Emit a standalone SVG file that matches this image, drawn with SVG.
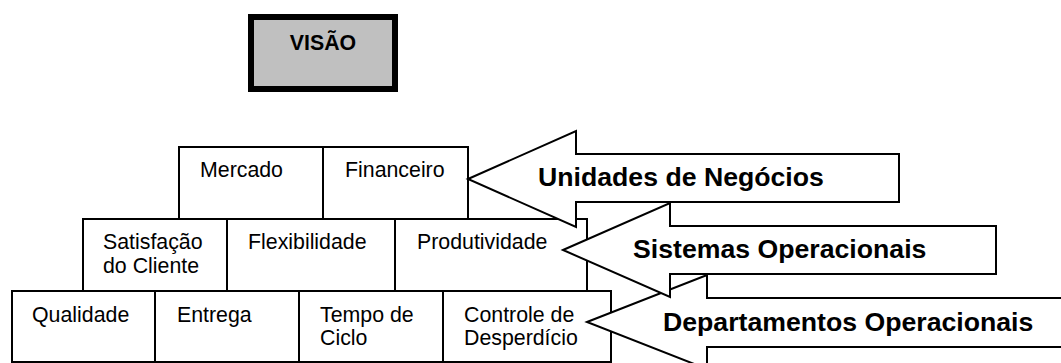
<svg xmlns="http://www.w3.org/2000/svg" width="1061" height="363" viewBox="0 0 1061 363">
  <style>
    .box { fill: #ffffff; stroke: #000000; stroke-width: 2; }
    .arrow { fill: #ffffff; stroke: #000000; stroke-width: 2; stroke-linejoin: miter; }
    .lbl { font-family: "Liberation Sans", Arial, sans-serif; font-size: 21.33px; fill: #000000; }
    .big { font-family: "Liberation Sans", Arial, sans-serif; font-size: 26.67px; font-weight: bold; fill: #000000; }
    .vis { font-family: "Liberation Sans", Arial, sans-serif; font-size: 21.33px; font-weight: bold; fill: #000000; }
  </style>
  <rect width="1061" height="363" fill="#ffffff"/>

  <g id="visao">
    <rect x="251" y="17" width="144" height="72" fill="#c0c0c0" stroke="#000000" stroke-width="6"/>
    <text class="vis" x="323" y="50" text-anchor="middle">VISÃO</text>
  </g>

  <g id="mercado">
    <rect class="box" x="179" y="147" width="144" height="72"/>
    <text class="lbl" x="200" y="177">Mercado</text>
  </g>
  <g id="financeiro">
    <rect class="box" x="323" y="147" width="145" height="72"/>
    <text class="lbl" x="345" y="177">Financeiro</text>
  </g>

  <g id="satisfacao">
    <rect class="box" x="83" y="219" width="144" height="72"/>
    <text class="lbl" x="103" y="249">Satisfação</text>
    <text class="lbl" x="103" y="273">do Cliente</text>
  </g>
  <g id="flexibilidade">
    <rect class="box" x="227" y="219" width="168" height="72"/>
    <text class="lbl" x="248" y="249">Flexibilidade</text>
  </g>
  <g id="produtividade">
    <rect class="box" x="395" y="219" width="192" height="72"/>
    <text class="lbl" x="417" y="249">Produtividade</text>
  </g>

  <g id="qualidade">
    <rect class="box" x="12" y="291" width="143" height="71"/>
    <text class="lbl" x="32" y="322">Qualidade</text>
  </g>
  <g id="entrega">
    <rect class="box" x="155" y="291" width="144" height="71"/>
    <text class="lbl" x="177" y="322">Entrega</text>
  </g>
  <g id="tempo-ciclo">
    <rect class="box" x="299" y="291" width="144" height="71"/>
    <text class="lbl" x="320" y="322">Tempo de</text>
    <text class="lbl" x="320" y="345">Ciclo</text>
  </g>
  <g id="controle-desperdicio">
    <rect class="box" x="443" y="291" width="168" height="71"/>
    <text class="lbl" x="464" y="322">Controle de</text>
    <text class="lbl" x="464" y="345">Desperdício</text>
  </g>

  <g id="departamentos-operacionais">
    <path class="arrow" d="M587,322 L707,275 L707,298 L1075,298 L1075,347 L707,347 L707,369 Z"/>
    <text class="big" x="663" y="331">Departamentos Operacionais</text>
  </g>
  <g id="sistemas-operacionais">
    <path class="arrow" d="M563,250 L670,203 L670,226 L996,226 L996,274 L670,274 L670,297 Z"/>
    <text class="big" x="633" y="258">Sistemas Operacionais</text>
  </g>
  <g id="unidades-negocios">
    <path class="arrow" d="M468,179 L576,131 L576,154 L899,154 L899,202 L576,202 L576,227 Z"/>
    <text class="big" x="538" y="186">Unidades de Negócios</text>
  </g>
</svg>
